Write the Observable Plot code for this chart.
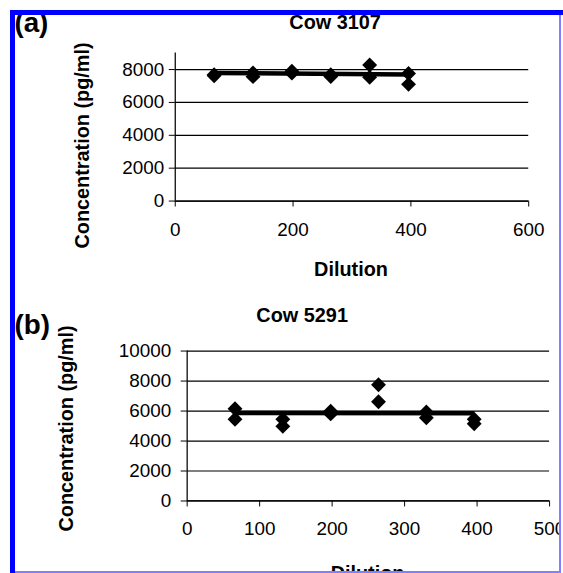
<!DOCTYPE html>
<html>
<head>
<meta charset="utf-8">
<script src="https://cdn.jsdelivr.net/npm/d3@7"></script>
<script src="https://cdn.jsdelivr.net/npm/@observablehq/plot@0.6"></script>
<style>
  html, body { margin: 0; padding: 0; background: #fff; }
  #page { position: relative; width: 563px; height: 573px; background: #fff; overflow: hidden; }
  #clip { position: absolute; left: 15px; top: 15px; width: 544px; height: 556px; overflow: hidden; }
  #pa { position: absolute; left: -15px; top: -15px; }
  #pb { position: absolute; left: -15px; top: 275px; }
  .bd { position: absolute; }
</style>
</head>
<body>
<div id="page">
  <div id="clip">
    <div id="pa"></div>
    <div id="pb"></div>
  </div>
  <div class="bd" style="left:10px;top:10px;width:553px;height:5px;background:#0000ff"></div>
  <div class="bd" style="left:10px;top:10px;width:5px;height:563px;background:#0000ff"></div>
  <div class="bd" style="left:559px;top:15px;width:2px;height:558px;background:#8080ff"></div>
  <div class="bd" style="left:15px;top:571px;width:546px;height:2px;background:#8080ff"></div>
</div>
<script>
// ---- data ----
const panelLabels = ["(a)", "(b)"];
const titles = ["Cow 3107", "Cow 5291"];
const xTitle = "Dilution";
const yTitle = "Concentration (pg/ml)";

const xTicksA = [0, 200, 400, 600];
const yTicksA = [0, 2000, 4000, 6000, 8000];
const xTicksB = [0, 100, 200, 300, 400, 500];
const yTicksB = [0, 2000, 4000, 6000, 8000, 10000];

const dilutions = [66, 66, 132, 132, 198, 198, 264, 264, 330, 330, 396, 396];
const concA = [7620, 7680, 7800, 7570, 7900, 7780, 7680, 7580, 8280, 7530, 7760, 7100];
const concB = [6150, 5450, 5450, 4980, 5990, 5810, 7750, 6620, 5940, 5545, 5450, 5150];

const trendDilution = [66, 396];
const trendA = [7790, 7700];
const trendB = [5870, 5855];

// ---- build tables ----
const pointsA = dilutions.map((d, i) => ({dilution: d, conc: concA[i]}));
const pointsB = dilutions.map((d, i) => ({dilution: d, conc: concB[i]}));
const lineA = trendDilution.map((d, i) => ({dilution: d, conc: trendA[i]}));
const lineB = trendDilution.map((d, i) => ({dilution: d, conc: trendB[i]}));

const FONT = "'Liberation Sans', Arial, Helvetica, sans-serif";

const diamond = {
  draw(ctx, size) {
    const h = Math.sqrt(size / Math.PI);
    ctx.moveTo(0, -h);
    ctx.lineTo(h, 0);
    ctx.lineTo(0, h);
    ctx.lineTo(-h, 0);
    ctx.closePath();
  }
};

function panel(opt) {
  return Plot.plot({
    width: 563,
    height: opt.height,
    marginLeft: opt.ml,
    marginRight: opt.mr,
    marginTop: opt.mt,
    marginBottom: opt.mb,
    style: {fontFamily: FONT, fontSize: "19px", color: "black", background: "transparent", overflow: "visible"},
    x: {domain: opt.xDomain},
    y: {domain: opt.yDomain},
    marks: [
      Plot.gridY({ticks: opt.yTicks, stroke: "black", strokeOpacity: 1, strokeWidth: 1.25}),
      Plot.axisY({ticks: opt.yTicks, tickSize: 6, tickPadding: opt.yPad, tickFormat: d => String(d), label: null, fontSize: 19}),
      Plot.axisX({ticks: opt.xTicks, tickSize: 6, tickPadding: opt.xPad, tickFormat: d => String(d), label: null, fontSize: 19}),
      Plot.ruleX([0], {stroke: "black", strokeWidth: 1.25}),
      Plot.ruleY([0], {stroke: "black", strokeWidth: 1.25}),
      Plot.line(opt.line, {x: "dilution", y: "conc", stroke: "black", strokeWidth: 4.5, strokeLinecap: "butt"}),
      Plot.dot(opt.points, {x: "dilution", y: "conc", symbol: diamond, r: 7.5, fill: "black"}),
      Plot.text([opt.label], {text: d => d, frameAnchor: "top-left", textAnchor: "start", lineAnchor: "middle",
        dx: opt.labelDx, dy: opt.labelDy, fontSize: 28, fontWeight: "bold"}),
      Plot.text([opt.title], {text: d => d, frameAnchor: "top", textAnchor: "middle", lineAnchor: "middle",
        dx: opt.titleDx, dy: opt.titleDy, fontSize: 20, fontWeight: "bold"}),
      Plot.text([xTitle], {text: d => d, frameAnchor: "bottom", textAnchor: "middle", lineAnchor: "middle",
        dx: opt.xtDx, dy: opt.xtDy, fontSize: 20, fontWeight: "bold"}),
      Plot.text([yTitle], {text: d => d, frameAnchor: "left", textAnchor: "middle", lineAnchor: "middle",
        rotate: -90, dx: opt.ytDx, dy: opt.ytDy, fontSize: 20, fontWeight: "bold"})
    ]
  });
}

const chartA = panel({
  height: 290, ml: 176, mr: 31, mt: 53, mb: 88,
  xDomain: [0, 600], yDomain: [0, 9000],
  xTicks: xTicksA, yTicks: yTicksA, xPad: 16, yPad: 5,
  points: pointsA, line: lineA,
  label: panelLabels[0], labelDx: -162, labelDy: -30,
  title: titles[0], titleDx: -17, titleDy: -31,
  xtDx: -1, xtDy: 69.5,
  ytDx: -93, ytDy: 18.5
});

const chartB = panel({
  height: 283, ml: 188, mr: 10, mt: 61, mb: 71,
  xDomain: [0, 500], yDomain: [0, 10000],
  xTicks: xTicksB, yTicks: yTicksB, xPad: 15, yPad: 10,
  points: pointsB, line: lineB,
  label: panelLabels[1], labelDx: -174, labelDy: -26,
  title: titles[1], titleDx: -66.7, titleDy: -35.7,
  xtDx: -0.8, xtDy: 72.7,
  ytDx: -121.7, ytDy: 2.5
});

document.getElementById("pa").appendChild(chartA);
document.getElementById("pb").appendChild(chartB);
</script>
</body>
</html>
